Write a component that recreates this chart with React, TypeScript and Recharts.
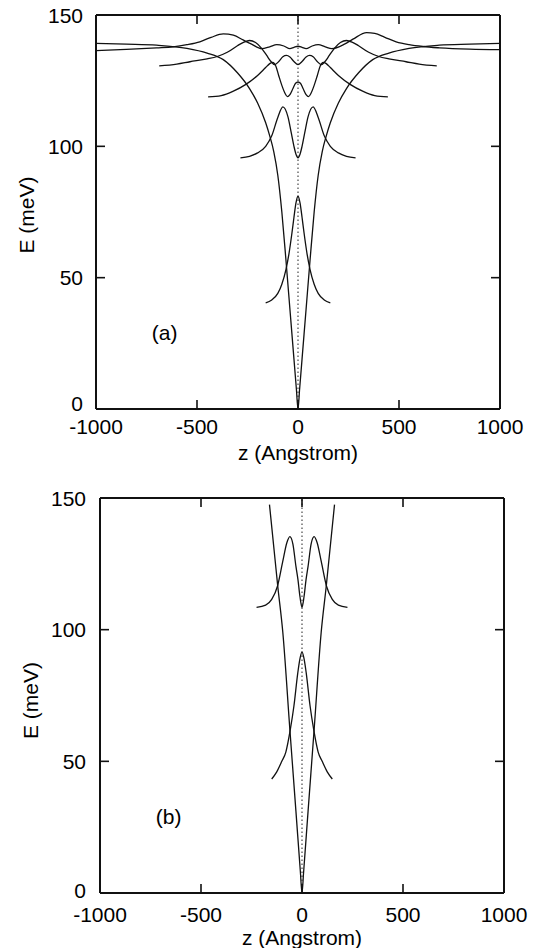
import React from "react";
import { LineChart, Line, XAxis, YAxis, ReferenceLine, ReferenceDot, Label } from "recharts";

const FONT = "'Liberation Sans', Arial, Helvetica, sans-serif";
const FS = 21;
const INK = "#111";

const X_TICKS = [-1000, -500, 0, 500, 1000];
const Y_TICKS = [0, 50, 100, 150];
const X_TITLE = "z (Angstrom)";
const Y_TITLE = "E (meV)";

// ---------- panel (a) ----------
const zPotA = [-1000, -850, -700, -550, -450, -370, -300, -240, -200, -160, -140, -120, -100, -80, -60, -40, -20, -8, 0, 8, 20, 40, 60, 80, 100, 120, 140, 160, 200, 240, 300, 370, 450, 550, 700, 850, 1000];
const ePotA = [139.2, 138.9, 138.5, 137.3, 135.5, 133, 128, 122, 116.5, 109, 104, 98, 89, 75, 57, 38, 19, 7.6, 0, 7.6, 19, 38, 57, 75, 89, 98, 104, 109, 116.5, 122, 128, 133, 135.5, 137.3, 138.5, 138.9, 139.2];

const zA1 = [-160, -130, -100, -80, -60, -45, -30, -20, -10, 0, 10, 20, 30, 45, 60, 80, 100, 130, 160];
const eA1 = [40.4, 41.5, 44, 47.5, 53, 59, 67, 73, 78.5, 81, 78.5, 73, 67, 59, 53, 47.5, 44, 41.5, 40.4];

const zA2 = [-285, -240, -200, -160, -130, -100, -75, -50, -33, -20, -10, 0, 10, 20, 33, 50, 75, 100, 130, 160, 200, 240, 285];
const eA2 = [95.6, 96.2, 97.5, 100, 104, 111, 115, 111.3, 105, 100, 97, 95.6, 97, 100, 105, 111.3, 115, 111, 104, 100, 97.5, 96.2, 95.6];

const zA3 = [-445, -380, -320, -260, -200, -160, -140, -125, -110, -95, -80, -65, -52, -40, -25, -12, 0, 12, 25, 40, 52, 65, 80, 95, 110, 125, 140, 160, 200, 260, 320, 380, 445];
const eA3 = [118.8, 119.3, 121, 123.5, 127, 130, 131.5, 132, 130.6, 126.8, 123.2, 120.3, 118.9, 119.7, 122, 124, 124.5, 124, 122, 119.7, 118.9, 120.3, 123.2, 126.8, 130.6, 132, 131.5, 130, 127, 123.5, 121, 119.3, 118.8];

const zA4 = [-687, -600, -535, -450, -400, -350, -300, -270, -240, -210, -180, -155, -135, -115, -95, -75, -57, -40, -20, 0, 20, 40, 57, 75, 95, 115, 135, 155, 180, 210, 240, 270, 300, 350, 400, 450, 535, 600, 687];
const eA4 = [130.6, 131.3, 132.2, 133.3, 134.2, 135.8, 138.3, 139.6, 140.3, 139.5, 137.3, 134.6, 132.4, 131.1, 132.3, 134.1, 134.6, 134, 132.3, 131.1, 132.3, 134, 134.6, 134.1, 132.3, 131.1, 132.4, 134.6, 137.3, 139.5, 140.3, 139.6, 138.3, 135.8, 134.2, 133.3, 132.2, 131.3, 130.6];

const zA5 = [-1000, -850, -700, -618, -550, -486, -430, -370, -320, -272, -230, -180, -140, -105, -70, -40, -20, 0, 20, 40, 70, 100, 135, 167, 230, 272, 340, 380, 430, 486, 550, 618, 700, 850, 1000];
const eA5 = [136.4, 136.9, 137.5, 137.9, 138.7, 139.8, 141.5, 142.8, 142.3, 140.5, 138.9, 137.2, 137.9, 138.7, 138.2, 137.2, 137.7, 138.1, 137.7, 137.2, 138.2, 138.7, 137.9, 137.2, 138.9, 140.8, 143.3, 143, 141.5, 139.8, 138.7, 138, 137.5, 137, 136.8];

// ---------- panel (b) ----------
const zPotB = [-161, -120, -95, -60, -30, -8, 0, 8, 30, 60, 95, 120, 161];
const ePotB = [147.5, 116.5, 99, 62, 31, 8, 0, 8, 31, 62, 99, 116.5, 147.5];

const zB1 = [-150, -125, -100, -80, -58, -40, -21, -10, 0, 10, 21, 40, 58, 80, 100, 125, 150];
const eB1 = [43.3, 46, 50, 53.5, 62, 71, 83.5, 89, 91.6, 89, 83.5, 71, 62, 53.5, 50, 46, 43.3];

const zB2 = [-225, -180, -150, -121, -95, -75, -60, -45, -30, -20, -10, 0, 10, 20, 30, 45, 60, 75, 95, 121, 150, 180, 225];
const eB2 = [108.5, 109.3, 111.5, 116.6, 126, 133, 135.3, 132.5, 124, 119, 112.5, 108.5, 112.5, 119, 124, 132.5, 135.3, 133, 126, 116.6, 111.5, 109.3, 108.5];

const zip = (z: number[], e: number[]) => z.map((v, i) => ({ z: v, E: e[i] }));

const SERIES_A = [zip(zPotA, ePotA), zip(zA1, eA1), zip(zA2, eA2), zip(zA3, eA3), zip(zA4, eA4), zip(zA5, eA5)];
const SERIES_B = [zip(zPotB, ePotB), zip(zB1, eB1), zip(zB2, eB2)];

const TICK_LEN = 9;

const BottomTick = (props: any) => {
  const { x, y, payload, gap } = props;
  const v = payload.value;
  const inner = v !== -1000 && v !== 1000;
  return (
    <g>
      {inner && <line x1={x} y1={y} x2={x} y2={y - TICK_LEN} stroke={INK} strokeWidth={1.6} />}
      <text x={x} y={y + gap} dy="0.36em" textAnchor="middle" fontFamily={FONT} fontSize={FS} fill="#000">
        {String(v)}
      </text>
    </g>
  );
};

const TopTick = (props: any) => {
  const { x, y, payload } = props;
  const v = payload.value;
  if (v === -1000 || v === 1000) return <g />;
  return <line x1={x} y1={y} x2={x} y2={y + TICK_LEN} stroke={INK} strokeWidth={1.6} />;
};

const LeftTick = (props: any) => {
  const { x, y, payload, gap, zeroLift } = props;
  const v = payload.value;
  const inner = v !== 0 && v !== 150;
  const lift = v === 0 ? -zeroLift : 0;
  return (
    <g>
      {inner && <line x1={x} y1={y} x2={x + TICK_LEN} y2={y} stroke={INK} strokeWidth={1.6} />}
      <text x={x - gap} y={y + lift} dy="0.36em" textAnchor="end" fontFamily={FONT} fontSize={FS} fill="#000">
        {String(v)}
      </text>
    </g>
  );
};

const RightTick = (props: any) => {
  const { x, y, payload } = props;
  const v = payload.value;
  if (v === 0 || v === 150) return <g />;
  return <line x1={x} y1={y} x2={x - TICK_LEN} y2={y} stroke={INK} strokeWidth={1.6} />;
};

type PanelProps = {
  series: { z: number; E: number }[][];
  tag: string;
  height: number;
  margin: { top: number; right: number; bottom: number; left: number };
  leftW: number;
  bottomH: number;
  tickGapX: number;
  titleGapX: number;
  tickGapY: number;
  zeroLift: number;
  titleXY: number;
  titleYShift: number;
  tagZ: number;
  tagE: number;
};

const Panel = (p: PanelProps) => {
  const axisLine = { stroke: INK, strokeWidth: 2 };
  return (
    <LineChart width={540} height={p.height} margin={p.margin}>
      <XAxis
        xAxisId={0}
        dataKey="z"
        type="number"
        domain={[-1000, 1000]}
        ticks={X_TICKS}
        allowDataOverflow
        height={p.bottomH}
        tickSize={0}
        tickMargin={0}
        tickLine={false}
        axisLine={axisLine}
        interval={0}
        tick={(tp: any) => <BottomTick {...tp} gap={p.tickGapX} />}
      >
        <Label
          content={(lp: any) => {
            const vb = lp.viewBox || {};
            return (
              <text x={vb.x + vb.width / 2} y={vb.y + p.titleGapX} dy="0.36em" textAnchor="middle" fontFamily={FONT} fontSize={FS} fill="#000">
                {X_TITLE}
              </text>
            );
          }}
        />
      </XAxis>
      <XAxis
        xAxisId="top"
        orientation="top"
        dataKey="z"
        type="number"
        domain={[-1000, 1000]}
        ticks={X_TICKS}
        allowDataOverflow
        height={1}
        tickSize={0}
        tickMargin={0}
        tickLine={false}
        axisLine={axisLine}
        interval={0}
        tick={(tp: any) => <TopTick {...tp} />}
      />
      <YAxis
        yAxisId={0}
        type="number"
        domain={[0, 150]}
        ticks={Y_TICKS}
        allowDataOverflow
        width={p.leftW}
        tickSize={0}
        tickMargin={0}
        tickLine={false}
        axisLine={axisLine}
        interval={0}
        tick={(tp: any) => <LeftTick {...tp} gap={p.tickGapY} zeroLift={p.zeroLift} />}
      >
        <Label
          content={(lp: any) => {
            const vb = lp.viewBox || {};
            const cx = vb.x + p.titleXY;
            const cy = vb.y + vb.height / 2 + p.titleYShift;
            return (
              <text x={cx} y={cy} dy="0.36em" textAnchor="middle" transform={`rotate(-90, ${cx}, ${cy})`} fontFamily={FONT} fontSize={FS} fill="#000">
                {Y_TITLE}
              </text>
            );
          }}
        />
      </YAxis>
      <YAxis
        yAxisId="right"
        orientation="right"
        type="number"
        domain={[0, 150]}
        ticks={Y_TICKS}
        allowDataOverflow
        width={1}
        tickSize={0}
        tickMargin={0}
        tickLine={false}
        axisLine={axisLine}
        interval={0}
        tick={(tp: any) => <RightTick {...tp} />}
      />
      <ReferenceLine x={0} xAxisId={0} yAxisId={0} stroke="#222" strokeWidth={1} strokeDasharray="1.5 2.5" />
      {p.series.map((d, i) => (
        <Line
          key={i}
          data={d}
          dataKey="E"
          xAxisId={0}
          yAxisId={0}
          type="monotone"
          stroke={INK}
          strokeWidth={1.3}
          dot={false}
          activeDot={false}
          isAnimationActive={false}
        />
      ))}
      <ReferenceDot
        x={p.tagZ}
        y={p.tagE}
        xAxisId={0}
        yAxisId={0}
        r={0}
        fill="none"
        stroke="none"
        label={{
          content: (lp: any) => {
            const vb = lp.viewBox || {};
            return (
              <text x={vb.x + (vb.width || 0) / 2} y={vb.y + (vb.height || 0) / 2} dy="0.36em" textAnchor="middle" fontFamily={FONT} fontSize={FS} fill="#000">
                {p.tag}
              </text>
            );
          },
        }}
      />
    </LineChart>
  );
};

export default function App() {
  return (
    <div style={{ position: "absolute", left: 0, top: 0, width: 540, height: 948, background: "#fff", overflow: "hidden" }}>
      <div style={{ position: "absolute", left: 0, top: 0 }}>
        <Panel
          series={SERIES_A}
          tag="(a)"
          height={470}
          margin={{ top: 14, right: 39, bottom: 0, left: 0 }}
          leftW={96}
          bottomH={61}
          tickGapX={17}
          titleGapX={43}
          tickGapY={13}
          zeroLift={6}
          titleXY={26}
          titleYShift={3}
          tagZ={-660}
          tagE={29}
        />
      </div>
      <div style={{ position: "absolute", left: 0, top: 470 }}>
        <Panel
          series={SERIES_B}
          tag="(b)"
          height={478}
          margin={{ top: 27, right: 35, bottom: 0, left: 0 }}
          leftW={100}
          bottomH={55}
          tickGapX={21}
          titleGapX={44}
          tickGapY={14}
          zeroLift={3}
          titleXY={30}
          titleYShift={5}
          tagZ={-660}
          tagE={29}
        />
      </div>
    </div>
  );
}
